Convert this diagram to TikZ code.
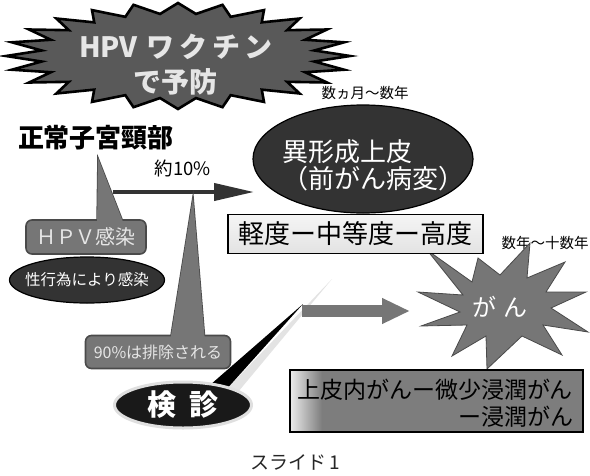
\documentclass[tikz,border=0pt]{standalone}
\usepackage{fontspec}
\setmainfont{Noto Sans CJK JP}
\usetikzlibrary{shapes.geometric,arrows.meta}
\definecolor{dk}{HTML}{333333}
\definecolor{burstgray}{HTML}{595959}
\definecolor{cg}{HTML}{767676}
\definecolor{cgd}{HTML}{4A4A4A}
\definecolor{lighttxt}{HTML}{E6E6E6}
\newcommand\fsz[2]{\fontsize{#1}{#2}\selectfont}
\tikzset{
  txt/.style={inner sep=0pt, outer sep=0pt},
  calloutbox/.style={fill=cg, draw=cgd, line width=1.6pt, rounded corners=6pt, inner sep=0pt},
  calloutptr/.style={fill=cg},
  darkell/.style={ellipse, fill=dk, draw=black, line width=1.2pt, inner sep=0pt},
}
\begin{document}
\begin{tikzpicture}[x=1pt,y=-1pt]
\useasboundingbox[fill=white] (0,0) rectangle (590,475);

% ---- top-left starburst ----
\path[fill=burstgray, draw=black, line width=2.6pt, line join=miter]
  (350,56) \foreach \i in {1,...,47}{ -- ({178+172*(1-0.2*mod(\i,2))*cos(\i*7.5)},{56+53*(1-0.2*mod(\i,2))*sin(\i*7.5)}) } -- cycle;
\node[txt, text=lighttxt, align=center, font=\bfseries\fsz{28}{35}] (vac) at (176,65) {HPV\hspace{9pt}ワ\,ク\,チ\,ン\\で予防};

% ---- labels ----
\node[txt, font=\bfseries\fsz{26}{30}] (normal) at (96,138) {正常子宮頸部};
\node[txt, font=\fsz{18.5}{21}] (pct) at (183,168) {約10\%};
\node[txt, font=\fsz{14.5}{17}] (months) at (365,93) {数ヵ月～数年};

% ---- dark arrow ----
\coordinate (a1s) at (113,192);
\coordinate (a1e) at (254,192);
\draw[dk, line width=4pt, -{Triangle[length=40pt,width=17pt]}] (a1s) -- (a1e);

% ---- HPV callout ----
\coordinate (hpvtip) at (98,158);
\coordinate (hpvbl) at (97,227);
\coordinate (hpvbr) at (125,227);
\path[calloutptr, draw=cgd, line width=1.6pt] (hpvtip) -- (hpvbl) -- (hpvbr) -- cycle;
\node[calloutbox, minimum width=120pt, minimum height=34pt] (hpv) at (86,237) {};
\path[calloutptr] (hpvtip) -- (hpvbl) -- (hpvbr) -- cycle;
\node[txt, text=lighttxt, font=\fsz{20}{24}] (hpvlabel) at (hpv.center) {ＨＰＶ感染};

% ---- sexual ellipse ----
\node[darkell, minimum width=155pt, minimum height=46pt] (sex) at (87,280) {};
\node[txt, text=white, font=\fsz{15.5}{18}] (sexlabel) at (sex.center) {性行為により感染};

% ---- 90% callout ----
\coordinate (extip) at (193,197);
\coordinate (exbl) at (170,342);
\coordinate (exbr) at (205,342);
\path[calloutptr, draw=cgd, line width=1.6pt] (extip) -- (exbl) -- (exbr) -- cycle;
\node[calloutbox, minimum width=145pt, minimum height=33pt] (ex) at (158,352) {};
\path[calloutptr] (extip) -- (exbl) -- (exbr) -- cycle;
\node[txt, text=lighttxt, font=\fsz{16}{19}] (exlabel) at (ex.center) {90\%は排除される};

% ---- screening wedge & ellipse ----
\coordinate (ktip) at (303,304);
\coordinate (kshtip) at (332,279);
\coordinate (kbl) at (202,392);
\coordinate (kbr) at (224,392);
\path[fill=gray!22] (224,392) -- (238,392) -- (kshtip) -- cycle;
\path[fill=black] (kbl) -- (kbr) -- (ktip) -- cycle;
\node[ellipse, fill=black!90, draw=gray!25, line width=3pt, inner sep=0pt, minimum width=137pt, minimum height=46pt] (ken) at (183,405) {};
\node[txt, text=white, font=\bfseries\fsz{29}{34}] (kenlabel) at (ken.center) {検\hspace{14pt}診};

% ---- gray arrow ----
\coordinate (a2s) at (302,311);
\coordinate (a2e) at (410,311);
\draw[cg, line width=12pt, -{Triangle[length=28pt,width=24pt]}] (a2s) -- (a2e);

% ---- dysplasia ellipse ----
\node[darkell, minimum width=220pt, minimum height=108pt] (dys) at (363,159) {};
\node[txt, anchor=west, text=white, align=left, font=\fsz{26}{27}] (dyslabel) at (282,165) {異形成上皮\\（前がん病変）};

% ---- cancer star ----
\node[txt, font=\fsz{14.5}{17}] (years) at (545,243) {数年～十数年};
\path[fill=cg, draw=cgd, line width=0.8pt, line join=miter]
  (427,250) -- (472,282) -- (478,258) -- (500,275) -- (530,243) -- (527,278)
  -- (565,262) -- (546,292) -- (586,292) -- (551,308) -- (588,332) -- (543,325)
  -- (562,355) -- (522,336) -- (487,369) -- (486,336) -- (452,356) -- (467,325)
  -- (421,326) -- (460,312) -- (418,292) -- (463,295) -- cycle;
\node[txt, text=white, font=\fsz{24}{28}] (gan) at (500,307) {が\hspace{8pt}ん};

% ---- grade box ----
\node[draw=black, line width=1.2pt, top color=gray!8, bottom color=gray!22, minimum width=255pt, minimum height=39pt, inner sep=0pt, font=\fsz{26}{30}] (grade) at (355.5,234) {軽度ー中等度ー高度};

% ---- invasion box ----
\path[fill=cg!95!white] (290,370) rectangle (583,432);
\shade[left color=gray!15, right color=cg!95!white] (290,370) rectangle (322,432);
\node[draw=black, line width=1.4pt, minimum width=293pt, minimum height=62pt, inner sep=0pt] (inv) at (436.5,401) {};
\node[txt, anchor=east, align=right, font=\fsz{23}{27}] (invlabel) at (573,403) {上皮内がんー微少浸潤がん\\ー浸潤がん};

% ---- caption ----
\node[txt, text=black!85, font=\fsz{19}{22}] (caption) at (295,462) {スライド\,1};
\end{tikzpicture}
\end{document}
